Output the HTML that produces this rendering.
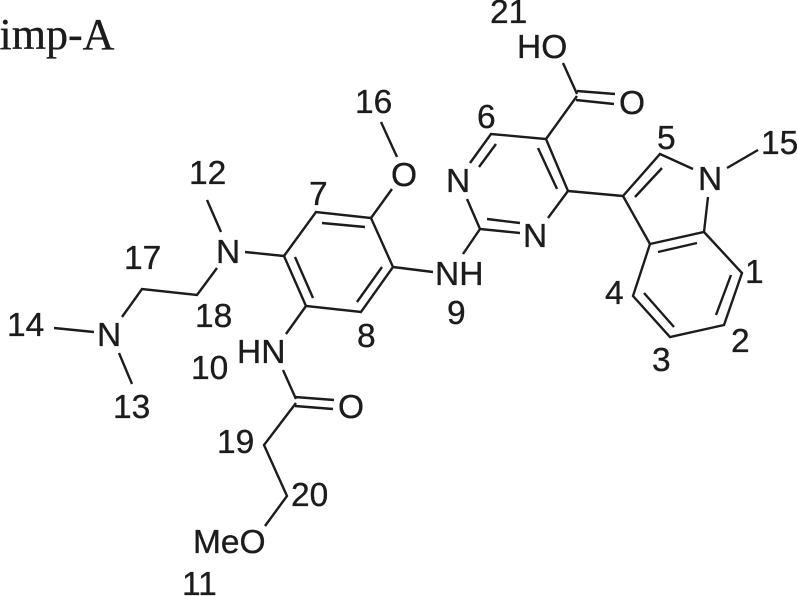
<!DOCTYPE html>
<html>
<head>
<meta charset="utf-8">
<style>
html,body{margin:0;padding:0;background:#fff;width:797px;height:596px;overflow:hidden}
svg{display:block;position:absolute;left:0;top:0;filter:blur(.3px)}
text{font-family:"Liberation Sans",sans-serif;font-size:33.5px;fill:#1c1c1c;stroke:#1c1c1c;stroke-width:.35px}
path{fill:none;stroke:#1c1c1c;stroke-width:2.4;stroke-linejoin:miter;stroke-linecap:butt}
</style>
</head>
<body>
<svg width="797" height="596" viewBox="0 0 797 596" xmlns="http://www.w3.org/2000/svg">
<text x="-0.5" y="49" style="font-family:'Liberation Serif',serif;font-size:44px">imp-A</text>

<!-- COOH -->
<path d="M563 63L577 94M577 91L615 94M576 100L614 104M577 96L546 139"/>
<!-- pyrimidine -->
<path d="M470 163L491 134L546 139L568 191L548 218M496 144L479 167M538 148L557 189"/>
<path d="M467 199L480 229L520 233M487 219L520 223M480 229L463 254"/>
<!-- linker -->
<path d="M568 191L623 196"/>
<!-- indole -->
<path d="M650 244L623 196L660 154L693 169M635 197L662 168"/>
<path d="M708 197L704 232M727 168L758 150"/>
<path d="M650 244L704 232L742 273L724 325L670 337L633 296L650 244"/>
<path d="M658 252L697 243M731 275L716 315M644 293L674 327"/>
<!-- central aryl -->
<path d="M284 256L316 212L371 218L393 267L361 312L306 306L284 256"/>
<path d="M322 223L365 227M382 267L357 302M295 257L313 298"/>
<path d="M371 218L392 189M381 122L397 157M393 267L433 272"/>
<!-- amine chain -->
<path d="M245 252L284 256M207 200L221 232M217 268L197 295L142 289L122 317"/>
<path d="M54 328L94 332M119 353L132 384"/>
<!-- amide chain -->
<path d="M306 306L286 334M283 370L296 399M295 397L334 400M295 406L333 409"/>
<path d="M296 403L264 445L287 496L265 526"/>

<!-- atoms -->
<text x="517" y="58">HO</text>
<text x="619" y="114">O</text>
<text x="446" y="192">N</text>
<text x="523" y="247">N</text>
<text x="698" y="190">N</text>
<text x="391" y="186">O</text>
<text x="435" y="285">NH</text>
<text x="216" y="263">N</text>
<text x="97" y="346">N</text>
<text x="237" y="363">HN</text>
<text x="338" y="418">O</text>
<text x="193" y="553">MeO</text>

<!-- numbers -->
<text x="490" y="23">21</text>
<text x="477" y="128">6</text>
<text x="657" y="149">5</text>
<text x="761" y="154">15</text>
<text x="745" y="283">1</text>
<text x="731" y="352">2</text>
<text x="652" y="371">3</text>
<text x="605" y="304">4</text>
<text x="355" y="113">16</text>
<text x="309" y="205">7</text>
<text x="189" y="184">12</text>
<text x="124" y="269">17</text>
<text x="195" y="327">18</text>
<text x="7" y="336">14</text>
<text x="113" y="418">13</text>
<text x="191" y="379">10</text>
<text x="357" y="347">8</text>
<text x="447" y="324">9</text>
<text x="217" y="453">19</text>
<text x="291" y="506">20</text>
<text x="182" y="595">11</text>
</svg>
</body>
</html>
